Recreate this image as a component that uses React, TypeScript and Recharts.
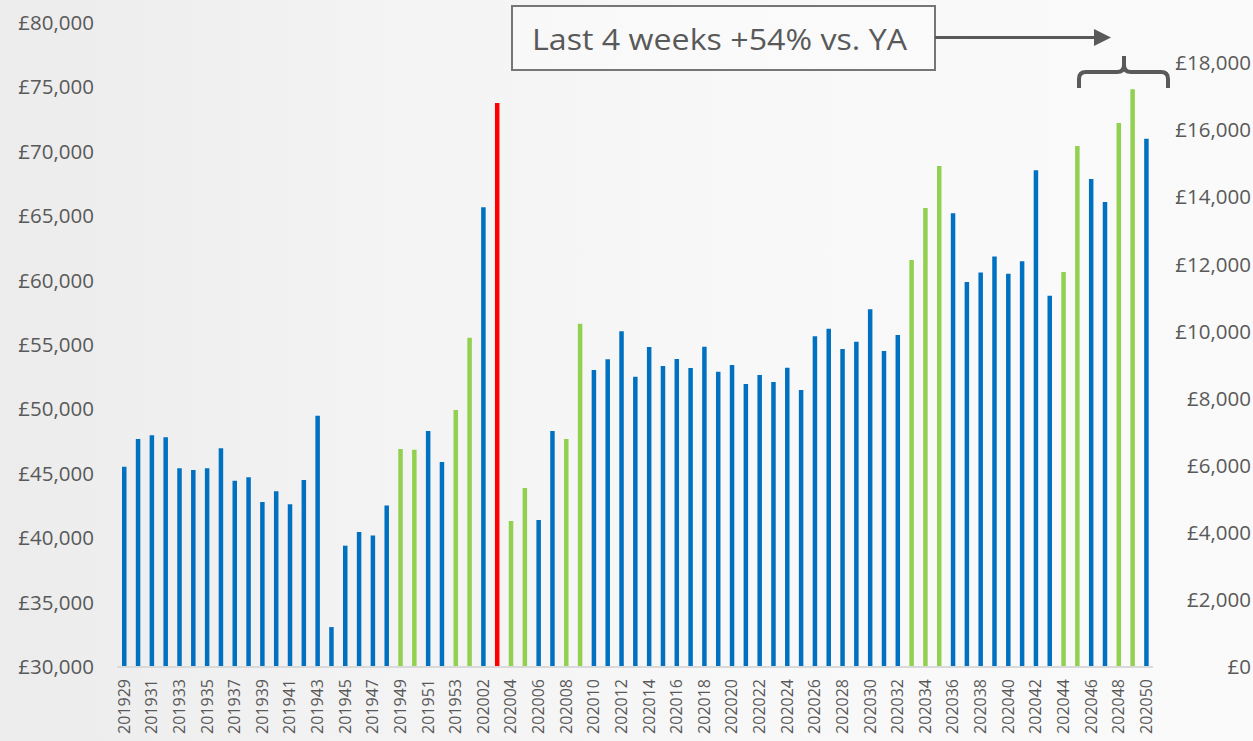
import { ComposedChart, Bar, Line, XAxis, YAxis, Cell } from 'recharts'

const W = 1253
const H = 741

const weeks = [
  '201929', '201930', '201931', '201932', '201933', '201934', '201935', '201936', '201937', '201938',
  '201939', '201940', '201941', '201942', '201943', '201944', '201945', '201946', '201947', '201948',
  '201949', '201950', '201951', '201952', '201953',
  '202001', '202002', '202003', '202004', '202005', '202006', '202007', '202008', '202009', '202010',
  '202011', '202012', '202013', '202014', '202015', '202016', '202017', '202018', '202019', '202020',
  '202021', '202022', '202023', '202024', '202025', '202026', '202027', '202028', '202029', '202030',
  '202031', '202032', '202033', '202034', '202035', '202036', '202037', '202038', '202039', '202040',
  '202041', '202042', '202043', '202044', '202045', '202046', '202047', '202048', '202049', '202050',
]

const sales = [
  45550, 47700, 47990, 47830, 45430, 45300, 45430, 46980, 44470, 44730,
  42810, 43640, 42630, 44520, 49510, 33100, 39420, 40480, 40200, 42530,
  46930, 46870, 48320, 45920, 49950,
  55570, 65690, 73790, 41340, 43900, 41410, 48320, 47700, 56650, 53060,
  53890, 56060, 52540, 54840, 53370, 53910, 53210, 54870, 52930, 53450,
  51970, 52670, 52130, 53240, 51510, 55670, 56270, 54690, 55260, 57770,
  54530, 55780, 61600, 65640, 68900, 65220, 59890, 60620, 61880, 60540,
  61500, 68560, 58830, 60670, 70450, 67890, 66100, 72240, 74850, 71020,
]

const greenWeeks = [
  '201949', '201950', '201953', '202001', '202004', '202005', '202008', '202009',
  '202033', '202034', '202035', '202044', '202045', '202048', '202049',
]
const redWeeks = ['202003']

const leftTicks = [30000, 35000, 40000, 45000, 50000, 55000, 60000, 65000, 70000, 75000, 80000]
const rightTicks = [0, 2000, 4000, 6000, 8000, 10000, 12000, 14000, 16000, 18000]

const data = weeks.map((w, i) => ({ week: w, sales: sales[i] }))

const BLUE = '#0070C0'
const GREEN = '#92D050'
const RED = '#FF0000'
const TEXT = '#595959'
const FONT = '"Open Sans", sans-serif'

const money = (v: number) => '£' + v.toLocaleString('en-GB')

function LeftTick({ y, payload }: any) {
  return (
    <text x={94} y={y} dy={7} textAnchor="end" fill={TEXT} fontSize={20.5} fontFamily={FONT}>
      {money(payload.value)}
    </text>
  )
}

function RightTick({ y, payload }: any) {
  return (
    <text x={W - 2} y={y} dy={7} textAnchor="end" fill={TEXT} fontSize={20.5} fontFamily={FONT}>
      {money(payload.value)}
    </text>
  )
}

function WeekTick({ x, y, payload }: any) {
  return (
    <g transform={`translate(${x},${y + 4}) rotate(-90)`}>
      <text x={0} y={0} dy="0.36em" textAnchor="end" fill={TEXT} fontSize={16} fontFamily={FONT}>
        {payload.value}
      </text>
    </g>
  )
}

export default function App() {
  return (
    <div
      style={{
        position: 'absolute',
        left: 0,
        top: 0,
        width: W,
        height: H,
        background: 'linear-gradient(90deg, #ececec 0%, #f3f3f3 30%, #f8f8f8 60%, #fafafa 100%)',
        overflow: 'hidden',
      }}
    >
      <ComposedChart width={W} height={H} data={data} margin={{ top: 23, right: 0, bottom: 0, left: 0 }}>
        <XAxis
          dataKey="week"
          interval={1}
          height={74}
          tickLine={false}
          axisLine={{ stroke: '#d9d9d9', strokeWidth: 2 }}
          tick={<WeekTick />}
        />
        <YAxis
          yAxisId="left"
          width={117}
          domain={[30000, 80000]}
          ticks={leftTicks}
          axisLine={false}
          tickLine={false}
          tick={<LeftTick />}
        />
        <YAxis
          yAxisId="right"
          orientation="right"
          width={100}
          type="number"
          domain={[0, 19200]}
          allowDataOverflow
          ticks={rightTicks}
          axisLine={false}
          tickLine={false}
          tick={<RightTick />}
        />
        <Bar yAxisId="left" dataKey="sales" barSize={4.5} isAnimationActive={false}>
          {data.map((d, i) => (
            <Cell
              key={i}
              fill={redWeeks.includes(d.week) ? RED : greenWeeks.includes(d.week) ? GREEN : BLUE}
            />
          ))}
        </Bar>
        {/* invisible series so the secondary axis is drawn */}
        <Line
          yAxisId="right"
          dataKey="sales"
          stroke="transparent"
          strokeWidth={0}
          dot={false}
          activeDot={false}
          legendType="none"
          isAnimationActive={false}
        />
      </ComposedChart>

      <svg width={W} height={H} style={{ position: 'absolute', left: 0, top: 0, pointerEvents: 'none' }}>
        <rect x={512} y={6} width={423} height={64} fill="#ffffff" fillOpacity={0.35} stroke="#767676" strokeWidth={2} />
        <text
          x={532}
          y={50}
          fill={TEXT}
          fontSize={30}
          fontFamily={FONT}
          textLength={375}
          lengthAdjust="spacingAndGlyphs"
        >
          Last 4 weeks +54% vs. YA
        </text>
        <line x1={935} y1={37.5} x2={1096} y2={37.5} stroke={TEXT} strokeWidth={3} />
        <path d="M1094,29 L1111,37.5 L1094,46 Z" fill={TEXT} />
        <path
          d="M1079,88 L1079,79 Q1079,72 1086,72 L1117,72 Q1124,72 1124,65 L1124,56 M1124,65 Q1124,72 1131,72 L1161,72 Q1168,72 1168,79 L1168,88"
          fill="none"
          stroke={TEXT}
          strokeWidth={4}
        />
      </svg>
    </div>
  )
}
